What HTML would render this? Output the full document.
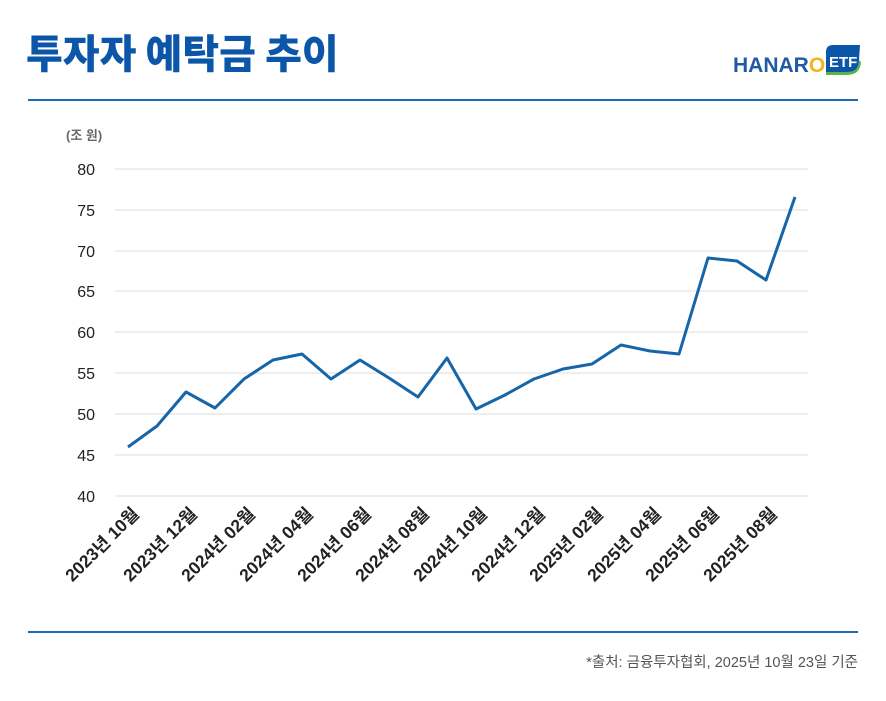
<!DOCTYPE html>
<html><head><meta charset="utf-8"><style>
body{margin:0;width:886px;height:696px;background:#fff;overflow:hidden;font-family:"Liberation Sans","Noto Sans CJK KR",sans-serif}
</style></head><body>
<svg width="886" height="696" viewBox="0 0 886 696" xmlns="http://www.w3.org/2000/svg" font-family="'Liberation Sans','Noto Sans CJK KR',sans-serif">
<text x="26" y="68" font-size="40" font-weight="900" fill="#0b56a8" font-family="'Noto Sans CJK KR',sans-serif">투자자 예탁금 추이</text>
<text x="733" y="72" font-size="21" font-weight="bold" fill="#1f5aa6">HANAR<tspan fill="#f2b51c">O</tspan></text>
<path d="M826 52 Q826 45 833 45 L860 45 L859 60 Q859 72 848 72 L826 72 Z" fill="#0b56a8"/>
<path d="M826 72 L848 72 Q859 72 859 60 L861 62 Q860 75 847 75 L826 75Z" fill="#5bb544"/>
<text x="829" y="67" font-size="15" font-weight="bold" fill="#fff">ETF</text>
<rect x="28" y="99" width="830" height="2" fill="#1a6bb8"/>
<rect x="28" y="631" width="830" height="2" fill="#1a6bb8"/>
<text x="858" y="667" font-size="14.5" fill="#555" text-anchor="end">*출처: 금융투자협회, 2025년 10월 23일 기준</text>
<text x="66" y="140" font-size="13" font-weight="bold" fill="#666">(조 원)</text>
<g stroke="#ddd" stroke-width="1">
<line x1="115" x2="808" y1="169" y2="169"/><line x1="115" x2="808" y1="210" y2="210"/><line x1="115" x2="808" y1="251" y2="251"/><line x1="115" x2="808" y1="291" y2="291"/><line x1="115" x2="808" y1="332" y2="332"/><line x1="115" x2="808" y1="373" y2="373"/><line x1="115" x2="808" y1="414" y2="414"/><line x1="115" x2="808" y1="455" y2="455"/><line x1="115" x2="808" y1="496" y2="496"/>
</g>
<g font-size="16" fill="#222" text-anchor="end">
<text x="95" y="175">80</text><text x="95" y="216">75</text><text x="95" y="257">70</text><text x="95" y="297">65</text><text x="95" y="338">60</text><text x="95" y="379">55</text><text x="95" y="420">50</text><text x="95" y="461">45</text><text x="95" y="502">40</text>
</g>
<polyline fill="none" stroke="#1565a8" stroke-width="3" stroke-linejoin="round" points="128,447 157,426 186,392 215,408 244,379 273,360 302,354 331,379 360,360 389,378 418,397 447,358 476,409 505,395 534,379 563,369 592,364 621,345 650,351 679,354 708,258 737,261 766,280 795,197"/>
<g font-size="17.5" font-weight="bold" fill="#222" text-anchor="end">
<text transform="translate(140,515) rotate(-45)">2023년 10월</text>
<text transform="translate(198,515) rotate(-45)">2023년 12월</text>
<text transform="translate(256,515) rotate(-45)">2024년 02월</text>
<text transform="translate(314,515) rotate(-45)">2024년 04월</text>
<text transform="translate(372,515) rotate(-45)">2024년 06월</text>
<text transform="translate(430,515) rotate(-45)">2024년 08월</text>
<text transform="translate(488,515) rotate(-45)">2024년 10월</text>
<text transform="translate(546,515) rotate(-45)">2024년 12월</text>
<text transform="translate(604,515) rotate(-45)">2025년 02월</text>
<text transform="translate(662,515) rotate(-45)">2025년 04월</text>
<text transform="translate(720,515) rotate(-45)">2025년 06월</text>
<text transform="translate(778,515) rotate(-45)">2025년 08월</text>
</g>
</svg>
</body></html>
